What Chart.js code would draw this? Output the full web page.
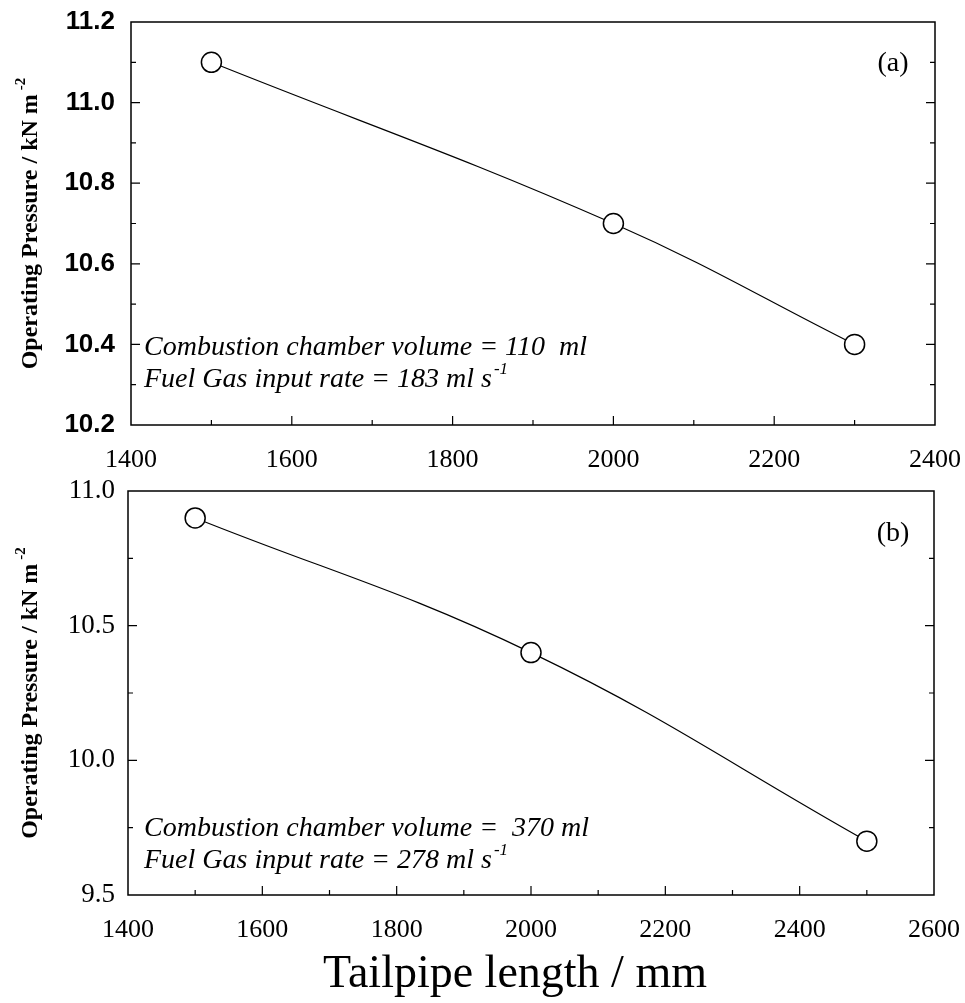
<!DOCTYPE html>
<html>
<head>
<meta charset="utf-8">
<script src="https://cdn.jsdelivr.net/npm/chart.js@4.4.0/dist/chart.umd.min.js"></script>
<style>
html, body { margin: 0; padding: 0; background: #fff; }
#wrap { position: relative; width: 965px; height: 1003px; }
canvas { position: absolute; left: 0; }
</style>
</head>
<body>
<div id="wrap">
    <canvas id="chartA" width="965" height="470" style="top:0px"></canvas>
    <canvas id="chartB" width="965" height="533" style="top:470px"></canvas>
</div>
<script>
// panel (a)
const tailpipeA = [ 1500, 2000, 2300 ];
const pressureA = [ 11.1, 10.7, 10.4 ];
// panel (b)
const tailpipeB = [ 1500, 2000, 2500 ];
const pressureB = [ 10.9, 10.4, 9.7 ];

const yTitle = 'Operating Pressure / kN m';
const notesA = [ 'Combustion chamber volume = 110  ml', 'Fuel Gas input rate = 183 ml s' ];
const notesB = [ 'Combustion chamber volume =  370 ml', 'Fuel Gas input rate = 278 ml s' ];
const xTitle = 'Tailpipe length / mm';

const SERIF = '"Liberation Serif", "Times New Roman", serif';
const SANS = '"Liberation Sans", Arial, sans-serif';

const decor = {
    id: 'decor',
    afterDraw( chart, args, o )
    {
        const c = chart.ctx;
        const a = chart.chartArea;
        const xs = chart.scales.x, ys = chart.scales.y;
        c.save();
        c.strokeStyle = '#000';
        c.fillStyle = '#000';

        // frame
        c.lineWidth = 1.5;
        c.strokeRect( a.left, a.top, a.right - a.left, a.bottom - a.top );

        // inward ticks, major + minor
        c.lineWidth = 1.2;
        c.beginPath();
        let n = Math.round( ( o.xMax - o.xMin ) / o.xMinor );
        for ( let i = 1; i < n; i++ )
        {
            let px = xs.getPixelForValue( o.xMin + i * o.xMinor );
            let len = i % 2 == 0 ? 9 : 5;
            c.moveTo( px, a.bottom );
            c.lineTo( px, a.bottom - len );
        }
        n = Math.round( ( o.yMax - o.yMin ) / o.yMinor );
        for ( let i = 1; i < n; i++ )
        {
            let py = ys.getPixelForValue( o.yMin + i * o.yMinor );
            let len = i % 2 == 0 ? 9 : 5;
            c.moveTo( a.left, py );
            c.lineTo( a.left + len, py );
            c.moveTo( a.right, py );
            c.lineTo( a.right - len, py );
        }
        c.stroke();

        // y title, rotated, with superscript
        c.save();
        c.translate( 37, ( a.top + a.bottom ) / 2 );
        c.rotate( -Math.PI / 2 );
        c.font = 'bold 24px ' + SERIF;
        let w1 = c.measureText( yTitle ).width;
        c.font = 'bold 15px ' + SERIF;
        let w2 = c.measureText( '-2' ).width;
        let sx = -( w1 + w2 + 4 ) / 2;
        c.font = 'bold 24px ' + SERIF;
        c.fillText( yTitle, sx, 0 );
        c.font = 'bold 15px ' + SERIF;
        c.fillText( '-2', sx + w1 + 4, -12 );
        c.restore();

        // panel letter
        c.font = '28px ' + SERIF;
        c.textAlign = 'center';
        c.fillText( o.letter, 893, o.letterY );

        // notes
        c.textAlign = 'left';
        c.font = 'italic 28px ' + SERIF;
        c.fillText( o.notes[ 0 ], o.noteX, o.noteY );
        c.fillText( o.notes[ 1 ], o.noteX, o.noteY + 32 );
        let w3 = c.measureText( o.notes[ 1 ] ).width;
        c.font = 'italic 17px ' + SERIF;
        c.fillText( '-1', o.noteX + w3 + 2, o.noteY + 32 - 13 );

        if ( o.xTitle )
        {
            c.font = '46px ' + SERIF;
            c.textAlign = 'center';
            c.fillText( o.xTitle, o.xTitleX, o.xTitleY );
        }
        c.restore();
    }
};

// drop the label overhang chart.js adds around the plot area
function noPad( s )
{
    s.paddingTop = 0;
    s.paddingBottom = 0;
    s.paddingLeft = 0;
    s.paddingRight = 0;
}

function makeChart( id, xs, ys, cfg )
{
    return new Chart( document.getElementById( id ), {
        type: 'scatter',
        data: {
            datasets: [ {
                data: xs.map( ( x, i ) => ( { x: x, y: ys[ i ] } ) ),
                showLine: true,
                tension: 0.4,
                borderColor: '#000',
                borderWidth: 1.2,
                pointRadius: 10,
                pointHoverRadius: 10,
                pointBackgroundColor: '#fff',
                pointBorderColor: '#000',
                pointBorderWidth: 1.5
            } ]
        },
        options: {
            responsive: false,
            animation: false,
            events: [],
            layout: {
                autoPadding: false,
                padding: { top: cfg.padTop, right: cfg.padRight, left: 0, bottom: 0 }
            },
            plugins: {
                legend: { display: false },
                tooltip: { enabled: false },
                decor: cfg.decor
            },
            scales: {
                x: {
                    type: 'linear',
                    min: cfg.decor.xMin,
                    max: cfg.decor.xMax,
                    afterFit: ( s ) => { s.height = cfg.xHeight; noPad( s ); },
                    grid: { drawOnChartArea: false, drawTicks: false },
                    border: { display: false },
                    ticks: {
                        stepSize: 200,
                        autoSkip: false,
                        maxRotation: 0,
                        padding: 20,
                        color: '#000',
                        font: { family: SERIF, size: 26 },
                        callback: ( v ) => String( v )
                    }
                },
                y: {
                    type: 'linear',
                    min: cfg.decor.yMin,
                    max: cfg.decor.yMax,
                    afterFit: ( s ) => { s.width = cfg.yWidth; noPad( s ); },
                    grid: { drawOnChartArea: false, drawTicks: false },
                    border: { display: false },
                    ticks: {
                        stepSize: cfg.decor.yMinor * 2,
                        autoSkip: false,
                        padding: cfg.yPad,
                        color: '#000',
                        font: cfg.yFont,
                        callback: ( v ) => Number( v ).toFixed( 1 )
                    }
                }
            }
        },
        plugins: [ decor ]
    } );
}

makeChart( 'chartA', tailpipeA, pressureA, {
    padTop: 22, padRight: 30, xHeight: 45, yWidth: 131, yPad: 16,
    yFont: { family: SANS, size: 26, weight: 'bold' },
    decor: {
        xMin: 1400, xMax: 2400, xMinor: 100,
        yMin: 10.2, yMax: 11.2, yMinor: 0.1,
        letter: '(a)', letterY: 71,
        notes: notesA, noteX: 144, noteY: 355
    }
} );

makeChart( 'chartB', tailpipeB, pressureB, {
    padTop: 21, padRight: 31, xHeight: 108, yWidth: 128, yPad: 13,
    yFont: { family: SERIF, size: 27 },
    decor: {
        xMin: 1400, xMax: 2600, xMinor: 100,
        yMin: 9.5, yMax: 11.0, yMinor: 0.25,
        letter: '(b)', letterY: 71,
        notes: notesB, noteX: 144, noteY: 366,
        xTitle: xTitle, xTitleX: 515, xTitleY: 517
    }
} );
</script>
</body>
</html>
